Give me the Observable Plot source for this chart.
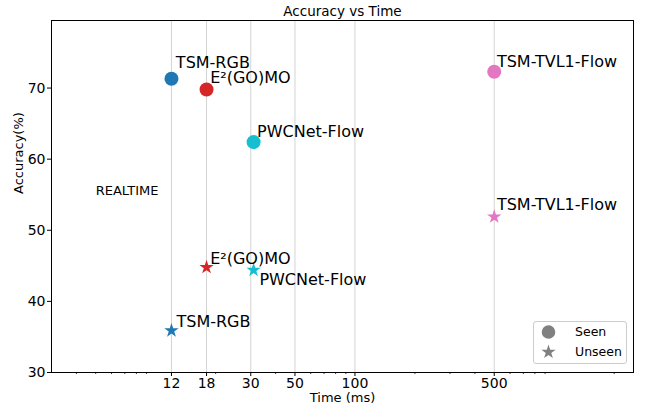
<!DOCTYPE html>
<html><head><meta charset="utf-8">
<script src="https://cdn.jsdelivr.net/npm/d3@7"></script>
<script src="https://cdn.jsdelivr.net/npm/@observablehq/plot@0.6"></script>
<style>
body{margin:0;background:#fff;font-family:"DejaVu Sans",sans-serif;}
#wrap{position:relative;width:645px;height:408px;}
#legend{position:absolute;left:533px;top:321px;width:94px;height:43px;border:1px solid #cccccc;border-radius:3px;background:rgba(255,255,255,0.85);box-sizing:border-box;}
</style></head><body><div id="wrap"></div>
<script>
// ---- data ----
const models = ["TSM-RGB", "E\u00b2(GO)MO", "PWCNet-Flow", "TSM-TVL1-Flow"];
const timeMs = [12, 18, 31, 500];
const seenAcc = [71.3, 69.8, 62.4, 72.3];
const unseenAcc = [35.9, 44.8, 44.4, 51.9];
const xTicks = [12, 18, 30, 50, 100, 500];
const xTickLabels = ["12", "18", "30", "50", "100", "500"];
const yTicks = [30, 40, 50, 60, 70];
const xMinorTicks = [4, 5, 6, 7, 8, 9, 20, 40, 60, 70, 80, 90, 200, 300, 400, 600, 700, 800, 900, 2000];
const legendNames = ["Seen", "Unseen"];
const annotationText = ["REALTIME"];
const annotationTime = [5];
const annotationAcc = [55];

// ---- styles / positions (not data) ----
const colors = ["#1f77b4", "#d62728", "#17becf", "#e377c2"];
const seenLabelOffsets = [[4.4, -10.8], [3.6, -6.4], [3.5, -5.6], [2.7, -4.3]];
const unseenLabelOffsets = [[5, -3.7], [3.6, -3.2], [5.8, 14.7], [2.7, -6.7]];
const font = "DejaVu Sans";
const starR = 4.5;

const seen = models.map((m, i) => ({model: m, time: timeMs[i], acc: seenAcc[i]}));
const unseen = models.map((m, i) => ({model: m, time: timeMs[i], acc: unseenAcc[i]}));
const annotations = annotationText.map((t, i) => ({text: t, time: annotationTime[i], acc: annotationAcc[i]}));
const xTickData = xTicks.map((t, i) => ({time: t, label: xTickLabels[i]}));

const pointMarks = [];
models.forEach((m, i) => {
  pointMarks.push(Plot.dot([seen[i]], {x: "time", y: "acc", r: 7, fill: colors[i], stroke: "none"}));
  pointMarks.push(Plot.dot([unseen[i]], {x: "time", y: "acc", r: starR, symbol: "star", fill: colors[i], stroke: "none"}));
});
const labelMarks = [];
models.forEach((m, i) => {
  labelMarks.push(Plot.text([seen[i]], {x: "time", y: "acc", text: "model", textAnchor: "start", lineAnchor: "bottom",
    dx: seenLabelOffsets[i][0], dy: seenLabelOffsets[i][1], fontSize: 16, fill: "black"}));
  labelMarks.push(Plot.text([unseen[i]], {x: "time", y: "acc", text: "model", textAnchor: "start", lineAnchor: "bottom",
    dx: unseenLabelOffsets[i][0], dy: unseenLabelOffsets[i][1], fontSize: 16, fill: "black"}));
});

const chart = Plot.plot({
  width: 645, height: 408,
  marginLeft: 51, marginRight: 12, marginTop: 20, marginBottom: 36,
  style: {fontFamily: font, fontSize: "14px", background: "white", color: "black", overflow: "visible"},
  x: {type: "log", domain: [3, 2500], label: null},
  y: {domain: [30, 79.5], label: null},
  marks: [
    Plot.gridX(xTicks, {stroke: "#d4d4d4", strokeOpacity: 1, strokeWidth: 1}),
    Plot.axisX(xMinorTicks, {tickSize: 2, fill: "none", label: null, strokeWidth: 0.8}),
    Plot.axisX(xTicks, {tickSize: 4, fill: "none", label: null}),
    Plot.text(xTickData, {x: "time", text: "label", frameAnchor: "bottom", lineAnchor: "top", dy: 5.5, fontSize: 14, fill: "black"}),
    Plot.axisY(yTicks, {tickSize: 4, tickPadding: 2, label: null, fontSize: 14}),
    Plot.frame({stroke: "black", strokeWidth: 1}),
    ...pointMarks,
    ...labelMarks,
    Plot.text(annotations, {x: "time", y: "acc", text: "text", textAnchor: "start", lineAnchor: "bottom", fontSize: 13, fill: "black"}),
    Plot.text(["Accuracy vs Time"], {frameAnchor: "top", lineAnchor: "bottom", dy: -4.4, fontSize: 13.5, fill: "black"}),
    Plot.text(["Time (ms)"], {frameAnchor: "bottom", lineAnchor: "bottom", dy: 29.7, fontSize: 13, fill: "black"}),
    Plot.text(["Accuracy(%)"], {frameAnchor: "left", lineAnchor: "bottom", rotate: -90, dx: -28.5, dy: -2.5, fontSize: 13, fill: "black"})
  ]
});

const wrap = document.getElementById("wrap");
wrap.appendChild(chart);

// legend overlay
const legend = document.createElement("div");
legend.id = "legend";
const lsvg = d3.create("svg").attr("width", 92).attr("height", 41).style("display", "block");
const symbols = [d3.symbolCircle, d3.symbolStar];
const sizes = [Math.PI * 6.8 * 6.8, Math.PI * starR * starR];
legendNames.forEach((name, i) => {
  const cy = 10 + i * 20;
  lsvg.append("path").attr("d", d3.symbol(symbols[i], sizes[i])()).attr("transform", `translate(14.5,${cy})`).attr("fill", "#808080");
  lsvg.append("text").attr("x", 41).attr("y", cy).attr("dy", "0.35em").attr("font-family", font).attr("font-size", 12.5).attr("fill", "black").text(name);
});
legend.appendChild(lsvg.node());
wrap.appendChild(legend);
</script>
</body></html>
